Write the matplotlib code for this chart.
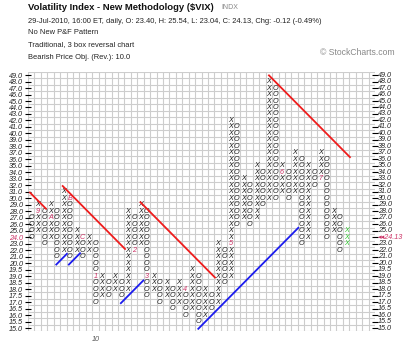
import numpy as np
import matplotlib.pyplot as plt

W, H = 420, 351

# --- P&F box levels (0.5 boxes below 20, 1.0 boxes from 20 up) ---
levels = [15.0, 15.5, 16.0, 16.5, 17.0, 17.5, 18.0, 18.5, 19.0, 19.5] + [float(v) for v in range(20, 50)]

# --- columns: kind, first box, last box (prices) ---
col_kind = "OXOXOXOXOXOXOXOXOXOXOXOXOXOXOXOXOXOXOXOXOXOXOXOXOX"[:50]
col_from = [27, 25, 28, 24, 28, 22, 30, 22, 24, 22,
            23, 17.5, 18.5, 18, 18.5, 18, 27, 23, 28, 18,
            18.5, 17.5, 18, 17, 18, 16.5, 19, 16, 17.5, 17,
            22, 19, 41, 27, 32, 27, 34, 30, 47, 31,
            34, 31, 36, 24, 34, 33, 36, 25, 27, 23]
col_to = [24, 29, 23, 29, 21, 31, 21, 25, 21, 24,
          17, 19, 17.5, 19, 17.5, 28, 22, 29, 17.5, 19,
          17, 18.5, 16.5, 18.5, 16, 19.5, 15.5, 18, 16.5, 23,
          18.5, 42, 26, 33, 26, 35, 29, 48, 30, 35,
          30, 37, 23, 35, 32, 37, 24, 28, 22, 25]

# month markers that replace a box
month_text = ["9", "A", "B", "C", "1", "2", "3", "4", "5", "6", "7"]
month_col = [1, 3, 6, 8, 10, 16, 18, 24, 31, 39, 45]
month_price = [28, 27, 30, 24, 19, 22, 19, 18, 23, 34, 33]

last_price = 24.13
x_ticks = [10]
x_tick_labels = ["10"]

# trend lines: start column, start box row, end column (45 degree lines)
red_x0 = [-0.2, 4.9, 17.0, 37.0]
red_y0 = [20.9, 21.9, 19.4, 38.95]
red_x1 = [2.3, 14.6, 28.6, 49.6]
blue_x0 = [3.9, 5.86, 13.95, 26.0]
blue_y0 = [9.8, 9.8, 3.85, -0.1]
blue_x1 = [5.55, 7.6, 17.46, 41.57]

row_of = {v: i for i, v in enumerate(levels)}
ink = "#222222"
pink = "#cc3366"
fs = 5.2
fam = ["Liberation Sans", "DejaVu Sans"]

fig = plt.figure(figsize=(W / 100, H / 100), dpi=100)
ax = fig.add_axes([28 / W, 1 - 331.4 / H, 347 / W, 259.6 / H])
ax.set_xlim(-0.5, 53.5)
ax.set_ylim(-0.5, len(levels) - 0.5)

for gx in np.arange(-0.5, 54, 1):
    ax.axvline(gx, color="#cdcdcd", lw=0.8, zorder=0)
for gy in np.arange(-0.5, len(levels), 1):
    ax.axhline(gy, color="#cdcdcd", lw=0.8, zorder=0)

marks = {(c, p): t for c, p, t in zip(month_col, month_price, month_text)}
ncol = len(col_kind)
for c in range(ncol):
    r0, r1 = row_of[float(col_from[c])], row_of[float(col_to[c])]
    lo, hi = min(r0, r1), max(r0, r1)
    for r in range(lo, hi + 1):
        txt, color = col_kind[c], ink
        if (c, levels[r]) in marks:
            txt, color = marks[(c, levels[r])], pink
        elif c == ncol - 1:
            color = "#33cc33"
        ax.text(c, r, txt, ha="center", va="center", fontsize=fs, family=fam,
                style="italic", color=color, zorder=3)

for x0, y0, x1 in zip(red_x0, red_y0, red_x1):
    ax.plot([x0, x1], [y0, y0 - (x1 - x0)], color="#ee1c1c", lw=1.3, zorder=4)
for x0, y0, x1 in zip(blue_x0, blue_y0, blue_x1):
    ax.plot([x0, x1], [y0, y0 + (x1 - x0)], color="#1c1cee", lw=1.3, zorder=4)

# axes / ticks
ax.set_yticks(range(len(levels)))
ax.set_yticklabels([f"{v:.1f}" for v in levels], fontsize=fs, family=fam,
                   style="italic", color=ink)
for lab, v in zip(ax.get_yticklabels(), levels):
    if v == 24.0:
        lab.set_color(pink)
ax.tick_params(axis="y", direction="inout", length=4, width=0.8, pad=1.5,
               left=True, right=True, labelleft=True)
ax.set_xticks(x_ticks)
ax.set_xticklabels(x_tick_labels, fontsize=fs, family=fam, style="italic", color="#555555")
ax.tick_params(axis="x", length=0, pad=3)
for s in ax.spines.values():
    s.set_visible(False)

# right side labels
for i, v in enumerate(levels):
    txt, color = f"{v:.1f}", ink
    if v == 24.0:
        txt, color = f"◂◂{last_price:.2f}", pink
    ax.text(53.5 + 0.5, i, txt, ha="left", va="center", fontsize=fs, family=fam,
            style="italic", color=color, clip_on=False)

# header
def ftext(x, y, s, **kw):
    fig.text(x / W, 1 - y / H, s, va="center", ha="left", family=fam, **kw)

ftext(28, 7.5, "Volatility Index - New Methodology ($VIX)", fontsize=6.8,
      fontweight="bold", color="#111111")
ftext(221, 7.5, "INDX", fontsize=5.0, color="#888888")
ftext(28, 21.5, "29-Jul-2010, 16:00 ET, daily, O: 23.40, H: 25.54, L: 23.04, C: 24.13, Chg: -0.12 (-0.49%)",
      fontsize=5.4, color="#222222")
ftext(28, 32.5, "No New P&F Pattern", fontsize=5.4, color="#222222")
ftext(28, 45, "Traditional, 3 box reversal chart", fontsize=5.4, color="#222222")
ftext(28, 57.5, "Bearish Price Obj. (Rev.): 10.0", fontsize=5.4, color="#222222")
ftext(320, 52.5, "© StockCharts.com", fontsize=6.2, color="#888888")

fig.savefig("out.png", dpi=100)
